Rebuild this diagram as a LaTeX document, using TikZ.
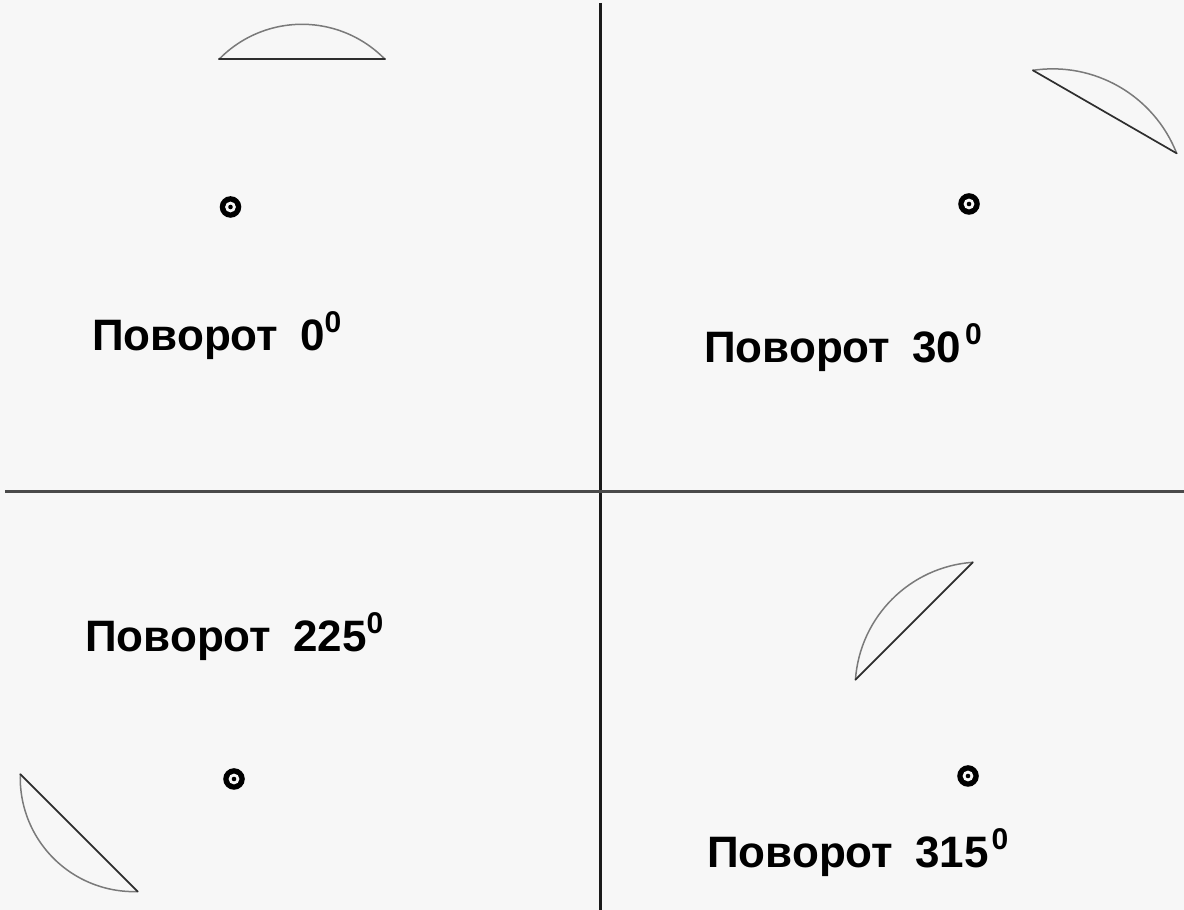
\documentclass[tikz,border=0pt]{standalone}
\usepackage{fontspec}
\setmainfont{Liberation Sans}
\definecolor{bgcol}{HTML}{F7F7F7}
\definecolor{arccol}{HTML}{7A7A7A}
\definecolor{chordcol}{HTML}{2E2E2E}
\definecolor{vlinecol}{HTML}{1A1A1A}
\definecolor{hlinecol}{HTML}{4A4A4A}
\newcommand\povlabel[3]{Поворот\hspace{#2}#1\hspace{#3}\raisebox{18.5pt}{\fontsize{30}{30}\selectfont 0}}
\tikzset{
  lbl/.style={anchor=base west, inner sep=0pt, font=\bfseries\fontsize{44}{44}\selectfont},
  pics/lens/.style={code={
    \pgfmathsetmacro\lrad{(83*83+#1*#1)/(2*#1)}
    \pgfmathsetmacro\lang{asin(83/\lrad)}
    \draw[arccol, line width=1.5pt, line cap=round, line join=round]
      (154.5,147.7) arc[start angle=90-\lang, end angle=90+\lang, radius=\lrad];
    \draw[chordcol, line width=1.7pt, line cap=round]
      (-11.5,147.7) -- (154.5,147.7);
  }},
  pivot/.pic={
    \fill[black] (0,0) circle[radius=10.8];
    \fill[bgcol] (0,0) circle[radius=5.4];
    \fill[black] (0,0) circle[radius=2.3];
  }
}
\begin{document}
\begin{tikzpicture}[x=1pt,y=1pt]
\fill[bgcol] (0,0) rectangle (1184,910);
\useasboundingbox (0,0) rectangle (1184,910);
% dividers
\coordinate (vt) at (600.7,907);
\coordinate (vb) at (600.7,0);
\coordinate (hl) at (5,418.3);
\coordinate (hr) at (1184,418.3);
\draw[vlinecol, line width=2.6pt] (vt) -- (vb);
\draw[hlinecol, line width=2.6pt] (hl) -- (hr);
% pivots
\pic at (230.5,703) {pivot};
\pic at (969,706) {pivot};
\pic at (234,131) {pivot};
\pic at (968,134) {pivot};
% lenses
\pic at (230.5,703) {lens=35};
\pic[rotate=-30] at (969,706) {lens=29};
\pic[rotate=-225] at (234,131) {lens=36};
\pic[rotate=-315] at (968,134) {lens=31};
% labels
\node[lbl] (l0) at (92,559) {\povlabel{0}{22pt}{0pt}};
\node[lbl] (l30) at (704,547) {\povlabel{30}{22pt}{4pt}};
\node[lbl] (l225) at (85,258) {\povlabel{225}{22pt}{0pt}};
\node[lbl] (l315) at (707,42) {\povlabel{315}{22pt}{3pt}};
\end{tikzpicture}
\end{document}
